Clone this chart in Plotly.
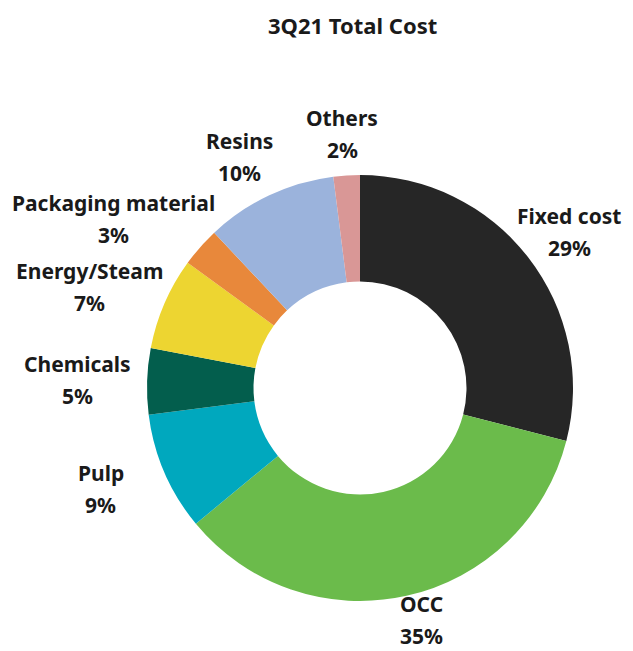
import math
import plotly.graph_objects as go

categories = ["Fixed cost", "OCC", "Pulp", "Chemicals", "Energy/Steam",
              "Packaging material", "Resins", "Others"]
values = [29, 35, 9, 5, 7, 3, 10, 2]
colors = ["#262626", "#6BBB4B", "#00A8BE", "#035E4D", "#EDD531",
          "#E8883B", "#9BB3DC", "#D99796"]
title = "3Q21 Total Cost"

W, H = 633, 651
CX, CY, R = 360, 388, 213
FONT = "Noto Sans"
FS = 21
TXT = "#1a1a1a"

fig = go.Figure(go.Pie(
    labels=categories, values=values, sort=False, direction="clockwise",
    rotation=0, hole=0.5, textinfo="none", hoverinfo="label+percent",
    marker=dict(colors=colors, line=dict(width=0)),
    domain=dict(x=[(CX - R) / W, (CX + R) / W],
                y=[(H - CY - R) / H, (H - CY + R) / H]),
    showlegend=False,
))

# Label placement derived from data: mid-angle of each slice, label box
# pushed outward by its own half-width, and kept inside the canvas.
total = sum(values)
cum = 0
D = R + 12
DV = 255
annotations = []
for name, v in zip(categories, values):
    mid = (cum + v / 2) / total * 2 * math.pi
    cum += v
    s, c = math.sin(mid), math.cos(mid)
    tw = len(name) * FS * 0.55
    w = max(tw, 115)
    px = CX + s * (D + w / 2)
    px = min(max(px, tw / 2 + 6), W - tw / 2 - 6)
    py = CY - c * DV
    py = min(max(py, 34), H - 31)
    pct = f"{round(v / total * 100)}%"
    for txt, shift in ((name, 16), (pct, -16)):
        annotations.append(dict(
            x=px / W, y=1 - py / H, xref="paper", yref="paper",
            text=f"<b>{txt}</b>", showarrow=False, yshift=shift,
            xanchor="center", yanchor="middle",
            font=dict(family=FONT, size=FS, color=TXT)))

annotations.append(dict(
    x=353 / W, y=1 - 25 / H, xref="paper", yref="paper",
    text=f"<b>{title}</b>", showarrow=False, xanchor="center", yanchor="middle",
    font=dict(family=FONT, size=22, color=TXT)))

fig.update_layout(
    width=W, height=H, margin=dict(l=0, r=0, t=0, b=0),
    paper_bgcolor="white", plot_bgcolor="white",
    annotations=annotations,
)
fig.write_html("out.html")
